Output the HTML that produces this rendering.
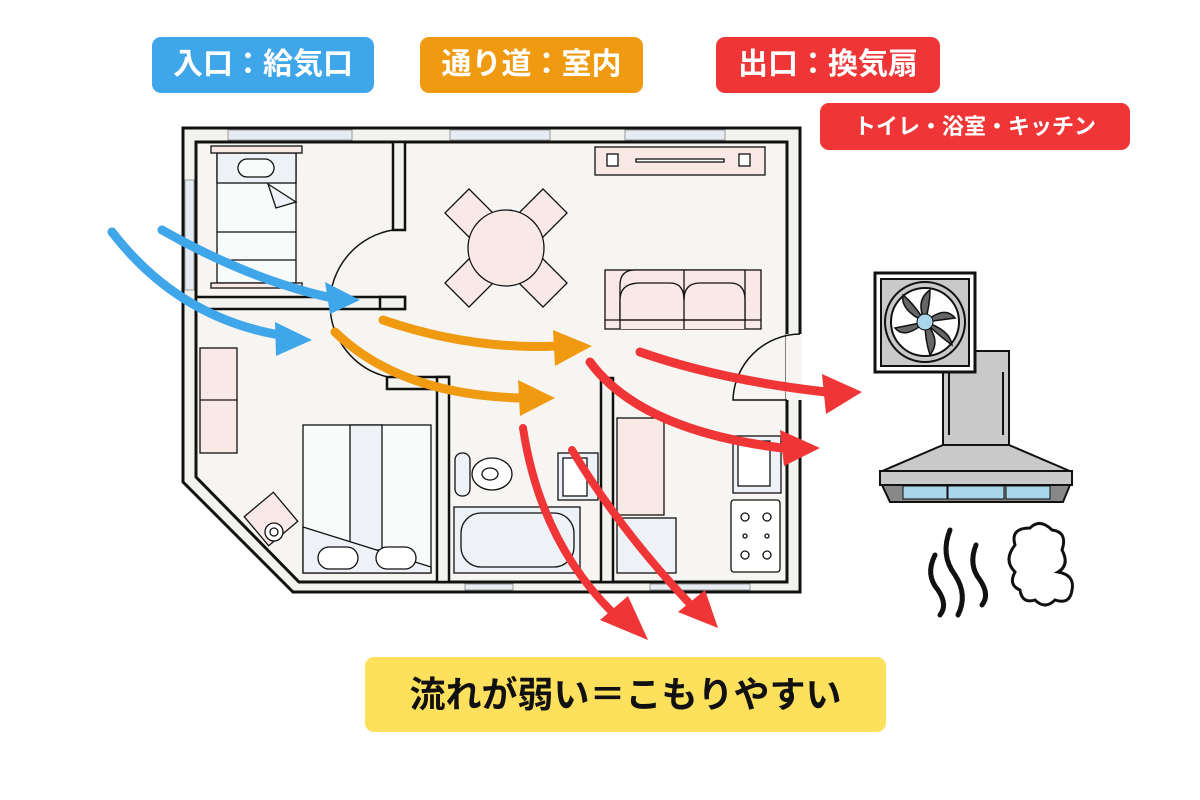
<!DOCTYPE html>
<html><head><meta charset="utf-8"><style>
body{margin:0;width:1200px;height:800px;background:#fff;overflow:hidden;position:relative;font-family:"Liberation Sans","Noto Sans CJK JP",sans-serif}
.tag{position:absolute;color:#fff;font-weight:bold;border-radius:9px;text-align:center}
</style></head><body>
<svg width="1200" height="800" style="position:absolute;left:0;top:0">
<defs><style>.k{stroke:#111;stroke-width:1.3;}</style></defs>
<!-- outer walls -->
<path d="M183,128 L800,128 L800,592 L293,592 L183,482 Z" fill="#f2f2ef" stroke="#111" stroke-width="3"/>
<path d="M196,142 L787,142 L787,582 L299,582 L196,477 Z" fill="#f7f5f2" stroke="#111" stroke-width="3"/>
<g fill="#e6ecf2" stroke="#999" stroke-width="1">
<rect x="228" y="130" width="124" height="10"/><rect x="450" y="130" width="100" height="10"/><rect x="625" y="130" width="100" height="10"/>
<rect x="185" y="180" width="9" height="110"/><rect x="465" y="584" width="48" height="6"/><rect x="650" y="584" width="100" height="6"/>
</g>
<!-- interior walls -->
<g fill="#f2f2ef" stroke="#111" stroke-width="2.5">
<rect x="393" y="142" width="12" height="88"/>
<rect x="196" y="297" width="209" height="12"/>
<rect x="387" y="377" width="62" height="12"/>
<rect x="437" y="377" width="12" height="205"/>
<rect x="601" y="378" width="12" height="204"/>
<rect x="380" y="297" width="25" height="12"/>
</g>
<path d="M393,230 A75,75 0 0 0 330,305 A75,75 0 0 0 388,377" fill="none" stroke="#111" stroke-width="1.5"/>
<rect x="786" y="334" width="16" height="66" fill="#f7f5f2"/>
<path d="M800,334 A68,68 0 0 0 733,400 L787,400" fill="none" stroke="#111" stroke-width="1.5"/>
<!-- bed top -->
<g class="k">
<rect x="217" y="153" width="79" height="130" fill="#f7fbf9"/>
<rect x="217" y="153" width="79" height="30" fill="#eef1f6"/>
<rect x="211" y="146" width="91" height="7" fill="#f8e8e6"/>
<rect x="211" y="283" width="91" height="5" fill="#f8e8e6"/>
<rect x="238" y="159" width="36" height="18" rx="9" fill="#f7fbf9"/>
<line x1="217" y1="232" x2="296" y2="232"/><line x1="217" y1="260" x2="296" y2="260"/>
<path d="M268,184 L296,202 L276,208 Z" fill="#eef1f6"/>
<!-- TV -->
<rect x="595" y="147" width="170" height="28" fill="#f8e8e6"/>
<rect x="607" y="154" width="11" height="12" fill="#fff"/><rect x="739" y="154" width="11" height="12" fill="#fff"/>
<rect x="636" y="159" width="88" height="3" fill="#fff"/>
<!-- table -->
<g fill="#f8e8e6">
<rect x="452" y="196" width="34" height="34" transform="rotate(45 469 213)"/>
<rect x="526" y="196" width="34" height="34" transform="rotate(45 543 213)"/>
<rect x="452" y="266" width="34" height="34" transform="rotate(45 469 283)"/>
<rect x="526" y="266" width="34" height="34" transform="rotate(45 543 283)"/>
<ellipse cx="506" cy="248" rx="38" ry="38"/>
</g>
<!-- sofa -->
<rect x="605" y="270" width="156" height="59" fill="#f8e8e6"/>
<path d="M620,329 V285 Q620,270 635,270 H745 V329" fill="#f8e8e6"/>
<path d="M620,320 V300 Q620,283 640,283 H670 Q684,283 684,300 Q684,283 700,283 H730 Q745,283 745,300 V320 Z" fill="#f8e8e6"/>
<line x1="605" y1="320" x2="761" y2="320"/><line x1="684" y1="270" x2="684" y2="329"/>
<!-- left cabinet -->
<rect x="200" y="348" width="37" height="105" fill="#f8e8e6"/><line x1="200" y1="400" x2="237" y2="400"/>
<!-- bottom bed -->
<rect x="303" y="425" width="128" height="148" fill="#f7fbf9"/>
<rect x="350" y="425" width="32" height="125" fill="#eef1f6"/>
<path d="M303,527 L431,567 L431,573 L303,573 Z" fill="#eef1f6"/>
<rect x="318" y="547" width="40" height="22" rx="11" fill="#fff"/><rect x="376" y="547" width="40" height="22" rx="11" fill="#fff"/>
<!-- plant -->
<rect x="252" y="500" width="38" height="38" fill="#f8e8e6" transform="rotate(-40 271 519)"/>
<circle cx="274" cy="532" r="9" fill="#fff"/><circle cx="274" cy="532" r="4" fill="#fff"/>
<!-- toilet -->
<rect x="455" y="453" width="15" height="43" rx="7" fill="#eef1f6"/>
<ellipse cx="492" cy="474" rx="20" ry="16" fill="#fff"/><ellipse cx="490" cy="474" rx="8" ry="6" fill="#fff"/>
<!-- sink bath -->
<rect x="558" y="453" width="40" height="47" fill="#eef1f6"/><rect x="563" y="458" width="24" height="38" fill="#fff"/>
<!-- bath -->
<rect x="454" y="507" width="126" height="66" fill="#eef1f6"/>
<rect x="461" y="513" width="113" height="54" rx="20" fill="#eef1f6"/>
<!-- kitchen -->
<rect x="617" y="418" width="47" height="97" fill="#f8e8e6"/>
<rect x="617" y="518" width="59" height="55" fill="#eef1f6"/>
<rect x="733" y="436" width="48" height="57" fill="#eef1f6"/><rect x="738" y="441" width="32" height="45" fill="#fff"/>
<rect x="731" y="500" width="49" height="72" rx="3" fill="#fff"/>
<g fill="#fff"><circle cx="745" cy="517" r="4"/><circle cx="767" cy="517" r="4"/><circle cx="745" cy="555" r="4"/><circle cx="767" cy="555" r="4"/><circle cx="745" cy="536" r="2"/><circle cx="767" cy="536" r="2"/></g>
</g>
<!-- arrows -->
<g fill="none" stroke-linecap="round">
<path d="M162,230 Q250,280 332,298" stroke="#3fa6ea" stroke-width="9"/>
<path d="M112,232 Q180,320 286,336" stroke="#3fa6ea" stroke-width="9"/>
<path d="M383,320 Q470,350 558,346" stroke="#f09a12" stroke-width="9"/>
<path d="M335,332 Q400,395 522,398" stroke="#f09a12" stroke-width="9"/>
<path d="M640,352 Q720,380 826,392" stroke="#ef3535" stroke-width="9"/>
<path d="M590,362 Q640,430 782,448" stroke="#ef3535" stroke-width="9"/>
<path d="M523,428 Q540,540 612,612" stroke="#ef3535" stroke-width="8"/>
<path d="M572,450 Q620,530 690,604" stroke="#ef3535" stroke-width="8"/>
</g>
<g>
<polygon points="360,300 325,282 330,314" fill="#3fa6ea"/>
<polygon points="312,340 275,322 276,356" fill="#3fa6ea"/>
<polygon points="592,346 553,330 555,366" fill="#f09a12"/>
<polygon points="555,398 518,380 520,416" fill="#f09a12"/>
<polygon points="862,392 822,374 826,414" fill="#ef3535"/>
<polygon points="820,448 780,430 784,466" fill="#ef3535"/>
<polygon points="648,640 600,620 628,596" fill="#ef3535"/>
<polygon points="718,628 678,612 705,590" fill="#ef3535"/>
</g>
<!-- hood -->
<g stroke="#111" stroke-width="2">
<rect x="943" y="351" width="66" height="96" fill="#c9c9c9"/>
<line x1="949" y1="372" x2="949" y2="435"/><line x1="1003" y1="372" x2="1003" y2="435"/>
<polygon points="943,445 1009,445 1072,472 880,472" fill="#c9c9c9"/>
<rect x="880" y="471" width="192" height="14" fill="#c9c9c9"/>
<polygon points="882,485 1070,485 1063,502 890,502" fill="#888"/>
<rect x="903" y="486" width="44" height="13" fill="#a9d6ea" stroke-width="1"/>
<rect x="948" y="486" width="56" height="13" fill="#a9d6ea" stroke-width="1"/>
<rect x="1006" y="486" width="44" height="13" fill="#a9d6ea" stroke-width="1"/>
</g>
<!-- fan -->
<rect x="875" y="273" width="100" height="99" fill="#fff" stroke="#111" stroke-width="3"/>
<rect x="881" y="279" width="88" height="87" fill="#c9c9c9" stroke="#111" stroke-width="2"/>
<circle cx="925" cy="322" r="40" fill="#c9c9c9" stroke="#111" stroke-width="2"/>
<circle cx="925" cy="322" r="34" fill="#fff" stroke="#111" stroke-width="2"/>
<g fill="#666" stroke="#111" stroke-width="1.5">
<path d="M925,322 Q915,300 930,290 Q930,305 925,322Z"/><path d="M925,322 Q945,305 955,318 Q940,320 925,322Z"/>
<path d="M925,322 Q942,340 930,355 Q925,340 925,322Z"/><path d="M925,322 Q905,340 895,328 Q910,325 925,322Z"/>
<path d="M925,322 Q900,310 903,295 Q915,305 925,322Z"/><path d="M925,322 Q950,330 952,345 Q938,335 925,322Z"/>
</g>
<circle cx="925" cy="322" r="8" fill="#a9d6ea" stroke="#111" stroke-width="1"/>
<!-- steam -->
<g fill="none" stroke="#111" stroke-width="5" stroke-linecap="round">
<path d="M935,555 Q925,575 938,590 Q948,605 940,615"/>
<path d="M950,530 Q940,555 955,575 Q968,595 958,615"/>
<path d="M976,545 Q968,565 980,580 Q990,595 982,605"/>
</g>
<path d="M1015,545 Q1010,528 1030,528 Q1040,518 1052,530 Q1068,532 1062,550 Q1070,565 1058,572 Q1075,575 1072,590 Q1070,605 1055,600 Q1045,610 1035,600 Q1022,604 1020,590 Q1008,585 1015,572 Q1003,560 1015,545Z" fill="none" stroke="#111" stroke-width="3"/>
</svg>
<div class="tag" style="left:152px;top:37px;width:222px;height:56px;line-height:56px;background:#3fa6ea;font-size:30px">入口：給気口</div>
<div class="tag" style="left:420px;top:37px;width:223px;height:56px;line-height:56px;background:#f09a12;font-size:30px">通り道：室内</div>
<div class="tag" style="left:716px;top:37px;width:224px;height:56px;line-height:56px;background:#ef3535;font-size:30px">出口：換気扇</div>
<div class="tag" style="left:820px;top:103px;width:310px;height:47px;line-height:47px;background:#ef3535;font-size:22px">トイレ・浴室・キッチン</div>
<div class="tag" style="left:365px;top:657px;width:521px;height:75px;line-height:75px;background:#fde05c;color:#111;font-size:36px">流れが弱い＝こもりやすい</div>
</body></html>
